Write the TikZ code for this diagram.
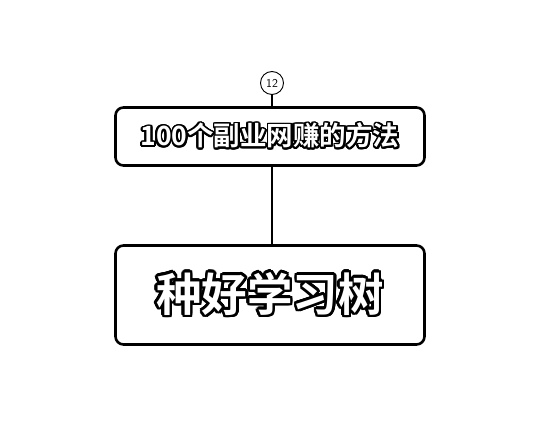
\documentclass[tikz,border=0pt]{standalone}
\usepackage{fontspec}
\newfontfamily\cjk{Noto Sans CJK SC Bold}
\usepackage[copies]{contour}
\contournumber{24}
\usetikzlibrary{positioning}

\begin{document}
\begin{tikzpicture}[x=1pt, y=1pt, line join=round]
\tikzstyle{topic}=[draw=black, line width=2.6pt, rounded corners=8pt, fill=white, inner sep=0pt]
\tikzstyle{tag}=[draw=black, circle, line width=0.9pt, minimum size=23pt, inner sep=0pt, font=\sffamily\fontsize{12}{12}\selectfont]
\tikzstyle{link}=[draw=black, line width=2.4pt]

\useasboundingbox (0,0) rectangle (560,445);

\node[topic, minimum width=309pt, minimum height=58pt] (method) at (270,308.5)
  {\cjk\fontsize{26.5}{26.5}\selectfont\contourlength{1.7pt}\contour{black}{\textcolor{white}{100个副业网赚的方法}}};
\node[topic, minimum width=309pt, minimum height=99pt] (tree) at (270,150)
  {\cjk\fontsize{45.5}{45.5}\selectfont\contourlength{2.5pt}\contour{black}{\textcolor{white}{种好学习树}}};
\node[tag] (num) at (272,362) {12};

\path
(num.south) edge[draw=black, line width=1.2pt] (num.south |- method.north)
(method.south -| num.south) edge[link] (tree.north -| num.south);

\end{tikzpicture}
\end{document}
